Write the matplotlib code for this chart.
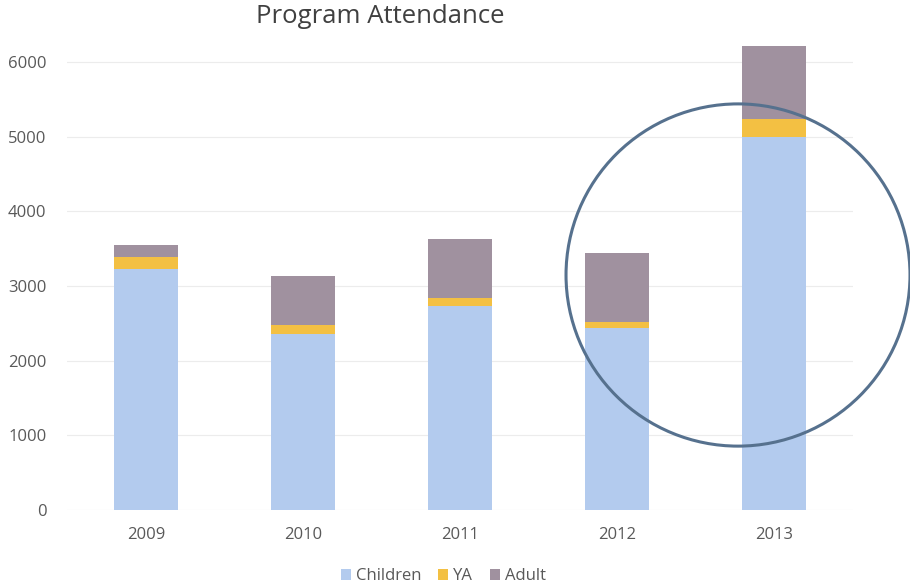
import matplotlib.pyplot as plt
from matplotlib.patches import Ellipse

years = ['2009', '2010', '2011', '2012', '2013']
children = [3230, 2360, 2730, 2440, 5000]
ya = [160, 120, 110, 80, 230]
adult = [160, 650, 790, 920, 990]

plt.rcParams['font.family'] = ['Open Sans', 'DejaVu Sans']

fig = plt.figure(figsize=(9.1, 5.87), dpi=100)
ax = fig.add_axes([0.074, 0.131, 0.863, 0.8016])

x = range(len(years))
w = 0.41
ax.bar(x, children, w, color='#b3cbee', label='Children', zorder=2)
ax.bar(x, ya, w, bottom=children, color='#f3c043', label='YA', zorder=2)
bottom2 = [c + y for c, y in zip(children, ya)]
ax.bar(x, adult, w, bottom=bottom2, color='#a0919f', label='Adult', zorder=2)

ax.set_xlim(-0.5, len(years) - 0.5)
ax.set_ylim(0, 6300)
ax.set_yticks(range(0, 7000, 1000))
ax.set_xticks(list(x))
ax.set_xticklabels(years)
ax.grid(axis='y', color='#ececec', linewidth=0.8, zorder=0)
for s in ax.spines.values():
    s.set_visible(False)
ax.tick_params(length=0, labelsize=12, colors='#595959')
ax.tick_params(axis='x', pad=12)
ax.tick_params(axis='y', pad=15)

fig.text(0.4176, 0.972, 'Program Attendance', ha='center', va='center',
         fontsize=18.5, color='#404040')

fig.legend(loc='center', bbox_to_anchor=(0.487, 0.018), ncol=3, frameon=False,
           fontsize=12, handlelength=0.6, handleheight=0.6, handletextpad=0.3,
           columnspacing=1.0, labelcolor='#595959')

# hand-drawn style circle around 2013
circ = Ellipse((0.811, 0.5315), 0.378, 0.583, transform=fig.transFigure,
               fill=False, edgecolor='#56718e', linewidth=2.2, zorder=5)
fig.patches.append(circ)

fig.savefig('out.png', dpi=100)
